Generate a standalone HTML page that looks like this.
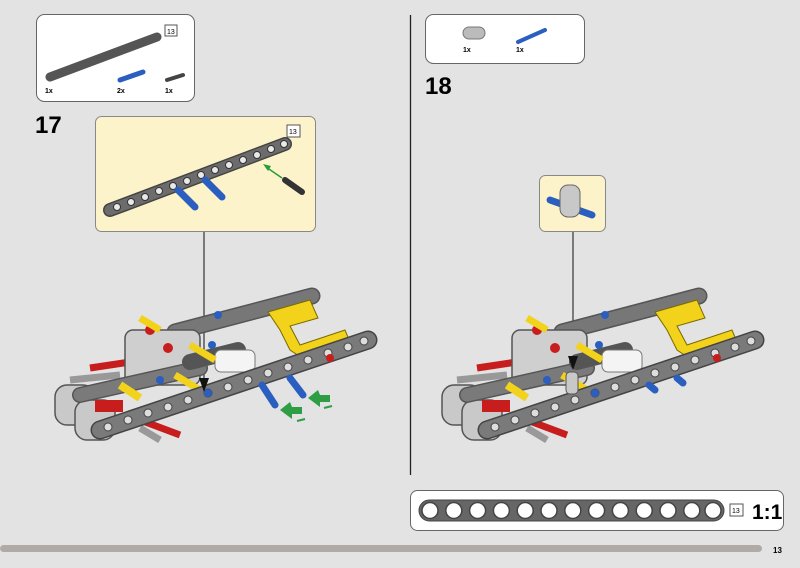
<!DOCTYPE html>
<html><head><style>
html,body{margin:0;padding:0;background:#e3e3e3;}
svg{display:block;font-family:"Liberation Sans",sans-serif;}
</style></head><body>
<svg width="800" height="568" viewBox="0 0 800 568" xmlns="http://www.w3.org/2000/svg">
<defs>
<g id="asm">
  <!-- left end light blocks -->
  <rect x="55" y="385" width="40" height="40" rx="12" fill="#c9c9c9" stroke="#555" stroke-width="1.5"/>
  <rect x="75" y="400" width="40" height="40" rx="12" fill="#c9c9c9" stroke="#555" stroke-width="1.5"/>
  <!-- axles -->
  <line x1="70" y1="380" x2="120" y2="375" stroke="#999" stroke-width="7"/>
  <line x1="90" y1="368" x2="130" y2="362" stroke="#c81d1d" stroke-width="7"/>
  <line x1="140" y1="420" x2="180" y2="435" stroke="#c81d1d" stroke-width="7"/>
  <line x1="140" y1="428" x2="160" y2="440" stroke="#999" stroke-width="7"/>
  <!-- back beam -->
  <line x1="175" y1="332" x2="312" y2="296" stroke="#555" stroke-width="17" stroke-linecap="round"/>
  <line x1="175" y1="332" x2="312" y2="296" stroke="#777" stroke-width="14" stroke-linecap="round"/>
  <!-- gray center block -->
  <rect x="125" y="330" width="75" height="55" rx="8" fill="#cfcfcf" stroke="#555" stroke-width="1.5"/>
  <circle cx="150" cy="330" r="5" fill="#c81d1d"/>
  <circle cx="168" cy="348" r="5" fill="#c81d1d"/>
  <!-- yellow back part -->
  <path d="M268 312 L310 300 L318 318 L290 326 L300 345 L345 330 L350 342 L305 360 L290 350 L280 330 Z" fill="#f2d21b" stroke="#7a6a00" stroke-width="1"/>
  <!-- middle beam -->
  <line x1="80" y1="395" x2="200" y2="368" stroke="#555" stroke-width="16" stroke-linecap="round"/>
  <line x1="80" y1="395" x2="200" y2="368" stroke="#7a7a7a" stroke-width="13" stroke-linecap="round"/>
  <line x1="190" y1="362" x2="238" y2="350" stroke="#555" stroke-width="16" stroke-linecap="round"/>
  <!-- white cylinder -->
  <rect x="215" y="350" width="40" height="22" rx="6" fill="#f4f4f4" stroke="#777"/>
  <!-- yellow pins -->
  <line x1="140" y1="318" x2="160" y2="330" stroke="#f2d21b" stroke-width="7"/>
  <line x1="190" y1="345" x2="215" y2="360" stroke="#f2d21b" stroke-width="7"/>
  <line x1="175" y1="375" x2="200" y2="390" stroke="#f2d21b" stroke-width="7"/>
  <line x1="120" y1="385" x2="140" y2="398" stroke="#f2d21b" stroke-width="8"/>
  <rect x="95" y="400" width="28" height="12" fill="#c81d1d"/>
  <!-- long front beam -->
  <line x1="100" y1="430" x2="368" y2="340" stroke="#444" stroke-width="19" stroke-linecap="round"/>
  <line x1="100" y1="430" x2="368" y2="340" stroke="#7a7a7a" stroke-width="16" stroke-linecap="round"/>
  <g fill="#ddd" stroke="#444" stroke-width="1">
    <circle cx="108" cy="427" r="4"/><circle cx="128" cy="420" r="4"/><circle cx="148" cy="413" r="4"/>
    <circle cx="168" cy="407" r="4"/><circle cx="188" cy="400" r="4"/><circle cx="208" cy="393" r="4"/>
    <circle cx="228" cy="387" r="4"/><circle cx="248" cy="380" r="4"/><circle cx="268" cy="373" r="4"/>
    <circle cx="288" cy="367" r="4"/><circle cx="308" cy="360" r="4"/><circle cx="328" cy="353" r="4"/>
    <circle cx="348" cy="347" r="4"/><circle cx="364" cy="341" r="4"/>
  </g>
  <circle cx="208" cy="393" r="4" fill="#2a5fbf"/>
  <circle cx="330" cy="358" r="4" fill="#c81d1d"/>
  <circle cx="218" cy="315" r="4" fill="#2a5fbf"/>
  <circle cx="212" cy="345" r="4" fill="#2a5fbf"/>
  <circle cx="160" cy="380" r="4" fill="#2a5fbf"/>
</g>
</defs>

<!-- divider -->
<line x1="410.5" y1="15" x2="410.5" y2="475" stroke="#222" stroke-width="1.3"/>

<!-- step 17 parts box -->
<rect x="36.5" y="14.5" width="158" height="87" rx="8" fill="#fff" stroke="#666"/>
<line x1="50" y1="77" x2="157" y2="37" stroke="#555" stroke-width="9" stroke-linecap="round"/>
<rect x="165" y="25" width="12" height="11" fill="#fff" stroke="#555"/>
<text x="167" y="34" font-size="7">13</text>
<line x1="120" y1="80" x2="143" y2="72" stroke="#2a5fbf" stroke-width="5" stroke-linecap="round"/>
<line x1="167" y1="80" x2="183" y2="75" stroke="#444" stroke-width="4" stroke-linecap="round"/>
<text x="45" y="93" font-size="7" font-weight="bold">1x</text>
<text x="117" y="93" font-size="7" font-weight="bold">2x</text>
<text x="165" y="93" font-size="7" font-weight="bold">1x</text>
<text x="35" y="133" font-size="24" font-weight="bold">17</text>

<!-- step 17 callout -->
<rect x="95.5" y="116.5" width="220" height="115" rx="6" fill="#fdf3cb" stroke="#888"/>
<line x1="110" y1="210" x2="285" y2="144" stroke="#444" stroke-width="14" stroke-linecap="round"/>
<line x1="110" y1="210" x2="285" y2="144" stroke="#6c6c6c" stroke-width="11" stroke-linecap="round"/>
<g fill="#e9e9e9" stroke="#333">
<circle cx="117" cy="207" r="3.5"/><circle cx="131" cy="202" r="3.5"/><circle cx="145" cy="197" r="3.5"/><circle cx="159" cy="191" r="3.5"/><circle cx="173" cy="186" r="3.5"/><circle cx="187" cy="181" r="3.5"/><circle cx="201" cy="175" r="3.5"/><circle cx="215" cy="170" r="3.5"/><circle cx="229" cy="165" r="3.5"/><circle cx="243" cy="160" r="3.5"/><circle cx="257" cy="155" r="3.5"/><circle cx="271" cy="149" r="3.5"/><circle cx="284" cy="144" r="3.5"/>
</g>
<line x1="178" y1="190" x2="195" y2="207" stroke="#2a5fbf" stroke-width="7" stroke-linecap="round"/>
<line x1="205" y1="180" x2="222" y2="197" stroke="#2a5fbf" stroke-width="7" stroke-linecap="round"/>
<line x1="285" y1="180" x2="302" y2="192" stroke="#333" stroke-width="6" stroke-linecap="round"/>
<line x1="282" y1="178" x2="266" y2="167" stroke="#2a9a3a" stroke-width="1.5"/>
<polygon points="263,164 271,166 268,171" fill="#2a9a3a"/>
<rect x="287" y="125" width="13" height="12" fill="#fff" stroke="#555"/>
<text x="289" y="134" font-size="7">13</text>
<line x1="204" y1="232" x2="204" y2="378" stroke="#333" stroke-width="1.2"/>

<use href="#asm"/>
<polygon points="204,392 199,378 209,378" fill="#111"/>
<!-- new pins and green arrows -->
<line x1="262" y1="385" x2="275" y2="405" stroke="#2a5fbf" stroke-width="7" stroke-linecap="round"/>
<line x1="290" y1="378" x2="303" y2="395" stroke="#2a5fbf" stroke-width="7" stroke-linecap="round"/>
<polygon points="280,410 290,402 292,407 302,407 302,414 292,414 292,419" fill="#2e9e45"/>
<polygon points="308,398 318,390 320,395 330,395 330,402 320,402 320,407" fill="#2e9e45"/>
<line x1="297" y1="421" x2="305" y2="419" stroke="#2e9e45" stroke-width="2"/>
<line x1="324" y1="408" x2="332" y2="406" stroke="#2e9e45" stroke-width="2"/>

<!-- step 18 parts box -->
<rect x="425.5" y="14.5" width="159" height="49" rx="8" fill="#fff" stroke="#666"/>
<rect x="463" y="27" width="22" height="12" rx="6" fill="#bbb" stroke="#777"/>
<line x1="518" y1="42" x2="545" y2="30" stroke="#2a5fbf" stroke-width="4" stroke-linecap="round"/>
<text x="463" y="52" font-size="7" font-weight="bold">1x</text>
<text x="516" y="52" font-size="7" font-weight="bold">1x</text>
<text x="425" y="94" font-size="24" font-weight="bold">18</text>

<rect x="539.5" y="175.5" width="66" height="56" rx="6" fill="#fdf3cb" stroke="#888"/>
<line x1="550" y1="200" x2="592" y2="215" stroke="#2a5fbf" stroke-width="7" stroke-linecap="round"/>
<rect x="560" y="185" width="20" height="32" rx="8" fill="#c8c8c8" stroke="#666"/>
<line x1="573" y1="232" x2="573" y2="360" stroke="#333" stroke-width="1.2"/>

<use href="#asm" transform="translate(387,0)"/>
<polygon points="573,370 568,356 578,356" fill="#111"/>
<line x1="649" y1="385" x2="655" y2="390" stroke="#2a5fbf" stroke-width="7" stroke-linecap="round"/>
<line x1="677" y1="378" x2="683" y2="383" stroke="#2a5fbf" stroke-width="7" stroke-linecap="round"/>
<rect x="566" y="372" width="12" height="22" rx="4" fill="#c8c8c8" stroke="#555"/>

<!-- scale bar -->
<rect x="410.5" y="490.5" width="373" height="40" rx="7" fill="#fff" stroke="#666"/>
<rect x="419" y="500" width="305" height="21" rx="10.5" fill="#666" stroke="#444"/>
<g fill="#fff" stroke="#444" stroke-width="1.5">
<circle cx="430" cy="510.5" r="8"/><circle cx="453.8" cy="510.5" r="8"/><circle cx="477.6" cy="510.5" r="8"/><circle cx="501.4" cy="510.5" r="8"/><circle cx="525.2" cy="510.5" r="8"/><circle cx="549" cy="510.5" r="8"/><circle cx="572.8" cy="510.5" r="8"/><circle cx="596.6" cy="510.5" r="8"/><circle cx="620.4" cy="510.5" r="8"/><circle cx="644.2" cy="510.5" r="8"/><circle cx="668" cy="510.5" r="8"/><circle cx="691.8" cy="510.5" r="8"/><circle cx="713" cy="510.5" r="8"/>
</g>
<rect x="730" y="504" width="13" height="12" fill="#fff" stroke="#555"/>
<text x="732" y="513" font-size="7">13</text>
<text x="752" y="519" font-size="21" font-weight="bold">1:1</text>

<!-- footer -->
<rect x="0" y="545" width="762" height="7" rx="3.5" fill="#b1aba7"/>
<text x="773" y="553" font-size="8" font-weight="bold">13</text>
</svg>
</body></html>
